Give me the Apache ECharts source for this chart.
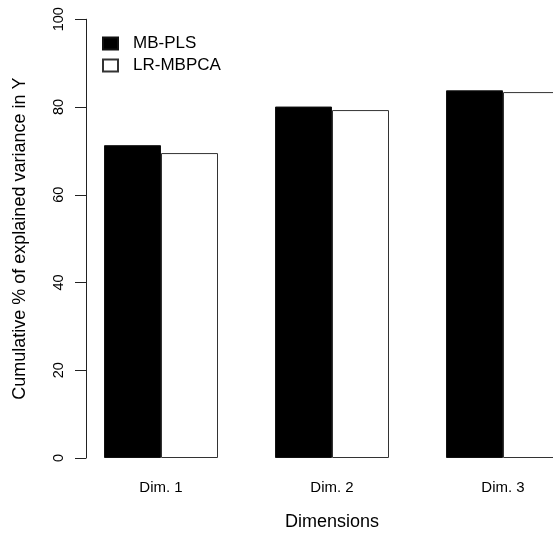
<!DOCTYPE html>
<html>
<head>
<meta charset="utf-8">
<script src="https://cdn.jsdelivr.net/npm/echarts@6/dist/echarts.min.js"></script>
<style>html,body{margin:0;padding:0;background:#fff}#c{width:553px;height:536px}</style>
</head>
<body>
<div id="c"></div>
<script>
var categories = ['Dim. 1', 'Dim. 2', 'Dim. 3'];
var mbPls = [71.3, 80.1, 83.8];
var lrMbpca = [69.5, 79.3, 83.4];
var yTicks = [0, 20, 40, 60, 80, 100];

var chart = echarts.init(document.getElementById('c'), null, {renderer: 'canvas'});
var font = 'Liberation Sans, Arial, sans-serif';
chart.setOption({
  animation: false,
  backgroundColor: '#fff',
  grid: {left: 75.5, width: 513, top: 19.25, height: 438.75, outerBoundsMode: 'none'},
  legend: {
    orient: 'vertical', left: 102, top: 35, padding: 0, itemWidth: 15, itemHeight: 12, itemGap: 5,
    textStyle: {fontFamily: font, fontSize: 17, color: '#000', padding: [0, 0, 0, 10]},
    data: [{name: 'MB-PLS', icon: 'rect'}, {name: 'LR-MBPCA', icon: 'rect'}]
  },
  xAxis: {
    type: 'category', data: categories,
    axisLine: {show: false}, axisTick: {show: false},
    axisLabel: {fontFamily: font, fontSize: 15, color: '#000', margin: 22},
    name: 'Dimensions', nameLocation: 'middle', nameGap: 55,
    nameTextStyle: {fontFamily: font, fontSize: 18, color: '#000'}
  },
  yAxis: {
    type: 'value', min: yTicks[0], max: yTicks[yTicks.length - 1], interval: 20, offset: -10.5,
    splitLine: {show: false},
    axisLine: {show: true, lineStyle: {color: '#222', width: 1}},
    axisTick: {show: true, length: 11, lineStyle: {color: '#222'}},
    axisLabel: {rotate: 90, fontFamily: font, fontSize: 14.5, color: '#000', margin: 20},
    name: 'Cumulative % of explained variance in Y', nameLocation: 'middle', nameGap: 57,
    nameTextStyle: {fontFamily: font, fontSize: 18, color: '#000'}
  },
  series: [
    {name: 'MB-PLS', type: 'bar', data: mbPls, barWidth: 57, barGap: '0%',
     itemStyle: {color: '#000', borderColor: '#111', borderWidth: 1}},
    {name: 'LR-MBPCA', type: 'bar', data: lrMbpca, barWidth: 57, barGap: '0%',
     itemStyle: {color: '#fff', borderColor: '#333', borderWidth: 1}}
  ]
});
</script>
</body>
</html>
